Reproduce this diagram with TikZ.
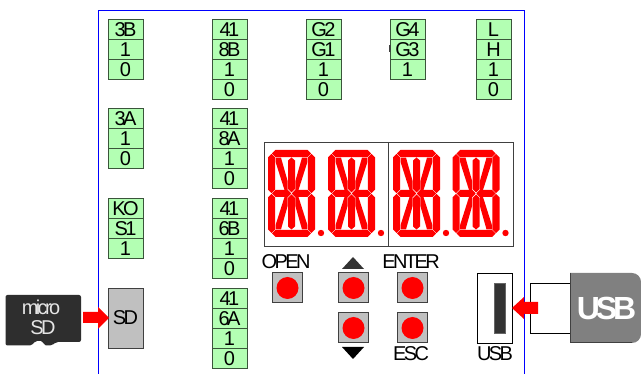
\documentclass[tikz,border=0pt]{standalone}
\usepackage{fontspec}
\setmainfont{Liberation Sans}[LetterSpace=-13]
\tikzset{
  x=1pt,y=-1pt,
  cell/.style={draw=cellline,fill=cellfill,line width=0.9pt,minimum width=35pt,minimum height=20pt,inner sep=0pt,outer sep=0pt,text=black,font=\fontsize{20}{20}\selectfont},
  lab/.style={inner sep=0pt,font=\fontsize{20}{20}\selectfont,text=black},
  btn/.style={draw=btnline,fill=btnfill,line width=1pt,minimum width=30pt,minimum height=30pt,inner sep=0pt},
  led/.style={fill=red,circle,minimum size=22pt,inner sep=0pt},
  seg/.style={fill=red,draw=none},
}
\definecolor{cellfill}{HTML}{B3FFB3}
\definecolor{cellline}{HTML}{3A553A}
\definecolor{btnfill}{HTML}{C0C0C0}
\definecolor{btnline}{HTML}{404040}
\newcommand{\digitat}[2]{%
\begin{scope}[shift={(#1,#2)}]
  \fill[seg] (4,3.5)--(7.5,0)--(39.5,0)--(43,3.5)--(39.5,7.2)--(7.5,7.2)--cycle;
  \fill[seg] (4,83.5)--(7.5,79.8)--(39.5,79.8)--(43,83.5)--(39.5,87)--(7.5,87)--cycle;
  \fill[seg] (4,43.5)--(7.5,40)--(20,40)--(23.2,43.5)--(20,47)--(7.5,47)--cycle;
  \fill[seg] (23.8,43.5)--(27,40)--(39.5,40)--(43,43.5)--(39.5,47)--(27,47)--cycle;
  \fill[seg] (3.5,4)--(7.2,7.5)--(7.2,39.5)--(3.5,43.2)--(0,39.5)--(0,7.5)--cycle;
  \fill[seg] (3.5,43.8)--(7.2,47.5)--(7.2,79.5)--(3.5,83)--(0,79.5)--(0,47.5)--cycle;
  \fill[seg] (43.5,4)--(47,7.5)--(47,39.5)--(43.5,43.2)--(39.8,39.5)--(39.8,7.5)--cycle;
  \fill[seg] (43.5,43.8)--(47,47.5)--(47,79.5)--(43.5,83)--(39.8,79.5)--(39.8,47.5)--cycle;
  \fill[seg] (23.5,7.5)--(27,10.5)--(27,39)--(23.5,42.5)--(20,39)--(20,10.5)--cycle;
  \fill[seg] (23.5,44.5)--(27,48)--(27,76.5)--(23.5,79.5)--(20,76.5)--(20,48)--cycle;
  \fill[seg] (7.6,12)--(7.6,7.6)--(13,7.6)--(19.6,31)--(19.6,40)--(16.5,40)--cycle;
  \fill[seg] (39.4,12)--(39.4,7.6)--(34,7.6)--(27.4,31)--(27.4,40)--(30.5,40)--cycle;
  \fill[seg] (7.6,75)--(7.6,79.4)--(13,79.4)--(19.6,56)--(19.6,47)--(16.5,47)--cycle;
  \fill[seg] (39.4,75)--(39.4,79.4)--(34,79.4)--(27.4,56)--(27.4,47)--(30.5,47)--cycle;
  \fill[seg] (53,83) circle (3.2);
\end{scope}}
\begin{document}
\begin{tikzpicture}
\useasboundingbox (0,0) rectangle (641,374);
\fill[white] (0,0) rectangle (641,374);
% frame
\draw[blue,line width=0.9pt] (98.5,374)--(98.5,10)--(524,10)--(524,374);
% cell stacks
\newcommand{\stack}[4]{% name, x centre, top, list
  \foreach \t [count=\i from 0] in {#4} {
    \node[cell] (#1-\i) at (#2,{#3+10+20*\i}) {\t};
  }}
\stack{a}{125.5}{19.5}{3B,1,0}
\stack{b}{125.5}{108.5}{3A,1,0}
\stack{c}{125.5}{198.5}{KO,S1,1}
\stack{d}{229.5}{19.5}{41,8B,1,0}
\stack{e}{229.5}{108.5}{41,8A,1,0}
\stack{f}{229.5}{198.5}{41,6B,1,0}
\stack{g}{229.5}{288.5}{41,6A,1,0}
\stack{h}{323.5}{19.5}{G2,G1,1,0}
\stack{i}{407.5}{19.5}{G4,G3,1}
\stack{j}{493.5}{19.5}{L,H,1,0}
\fill[btnline] (389.2,45) rectangle (390.6,52);
% display
\draw[draw=black!75,line width=0.9pt] (264,142) rectangle (513,246);
\draw[draw=black!75,line width=0.9pt] (388,142)--(388,246);
\digitat{268}{150}
\digitat{328}{150}
\digitat{393}{150}
\digitat{452.5}{150}
% SD slot
\node[draw=btnline,fill=btnfill,line width=0.9pt,minimum width=35pt,minimum height=60pt,inner sep=0pt,font=\fontsize{20}{20}\selectfont] (sd) at (125.5,318) {SD};
% micro SD card
\fill[black!82,rounded corners=2pt] (5.5,295)--(81,295)--(81,342)--(56,342)--(52,345.5)--(44,345.5)--(43,341)--(35,341)--(32,345.5)--(5.5,345.5)--cycle;
\node[lab,text=white!90!black] (micro) at (41,307) {micro};
\node[lab,text=white!90!black] (sdt) at (43,328) {SD};
% SD arrow
\fill[red] (83,312)--(98,312)--(98,307)--(109,318)--(98,329)--(98,323)--(83,323)--cycle;
% buttons
\foreach \n/\x/\y in {open/287.5/288,up/353.5/288,enter/412.5/288,down/353.5/328,esc/412.5/328}{
  \node[btn] (\n) at (\x,\y) {};
  \node[led] at (\n) {};
}
\node[lab] (lopen) at (286,262) {OPEN};
\node[lab] (lenter) at (411,262) {ENTER};
\node[lab] (lesc) at (411,354) {ESC};
\fill[black!80] (353,257)--(364,269)--(342,269)--cycle;
\fill[black] (353,359)--(364,347)--(342,347)--cycle;
% USB socket
\node[draw=black,line width=0.9pt,fill=white,minimum width=35pt,minimum height=70pt,inner sep=0pt] (socket) at (494.5,308) {};
\node[draw=black!60,fill=black!80,minimum width=10.5pt,minimum height=50pt,inner sep=0pt] (slot) at (499.5,308) {};
\node[lab] (lusb) at (495,354) {USB};
% USB plug
\draw[black,fill=white,line width=0.8pt] (530,283) rectangle (571,333);
\fill[black!50!white] (570,273)--(632,273) to[out=0,in=90] (641,282)--(641,334) to[out=-90,in=0] (632,343)--(570,343)--cycle;
\draw[black!75,line width=1pt] (570,273)--(570,343)--(632,343);
\node[font=\fontsize{32}{32}\selectfont\bfseries,text=white,inner sep=0pt] (plug) at (606.5,308) {USB};
% USB arrow
\fill[red] (538,302)--(524,302)--(524,297)--(512,308)--(524,319)--(524,314)--(538,314)--cycle;
\end{tikzpicture}
\end{document}
